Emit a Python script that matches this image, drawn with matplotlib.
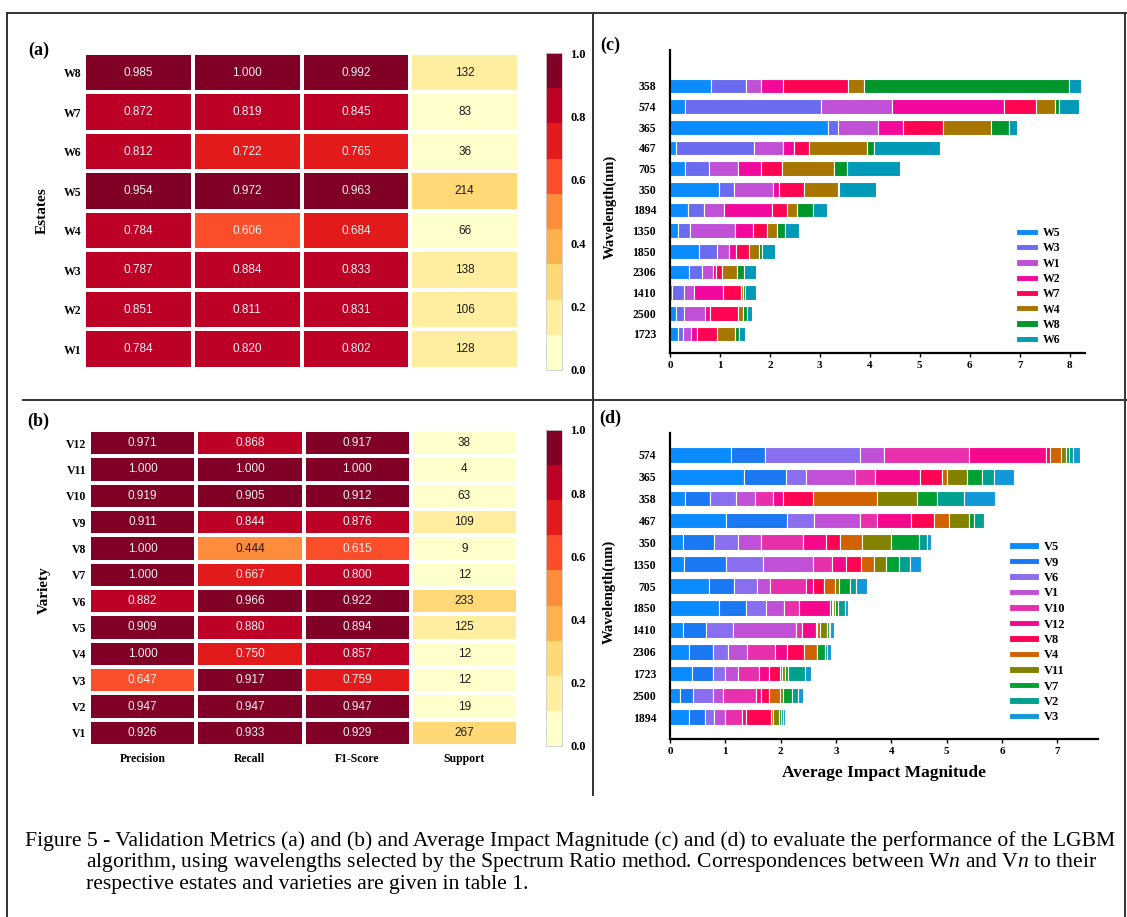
import numpy as np
import matplotlib.pyplot as plt
from matplotlib.colors import ListedColormap, Normalize
from matplotlib.cm import ScalarMappable
from matplotlib.lines import Line2D

plt.rcParams["mathtext.fontset"] = "custom"
plt.rcParams["mathtext.rm"] = "Liberation Serif"
plt.rcParams["mathtext.it"] = "Liberation Serif:italic"

SERIF = "Liberation Serif"
SANS = "Liberation Sans"
W, H = 1127, 917

# ── (a) / (b) validation metrics ────────────────────────────────────────────
metric_cols = ["Precision", "Recall", "F1-Score", "Support"]

estates = ["W8", "W7", "W6", "W5", "W4", "W3", "W2", "W1"]
est_precision = [0.985, 0.872, 0.812, 0.954, 0.784, 0.787, 0.851, 0.784]
est_recall = [1.000, 0.819, 0.722, 0.972, 0.606, 0.884, 0.811, 0.820]
est_f1 = [0.992, 0.845, 0.765, 0.963, 0.684, 0.833, 0.831, 0.802]
est_support = [132, 83, 36, 214, 66, 138, 106, 128]

varieties = ["V12", "V11", "V10", "V9", "V8", "V7", "V6", "V5", "V4", "V3", "V2", "V1"]
var_precision = [0.971, 1.000, 0.919, 0.911, 1.000, 1.000, 0.882, 0.909, 1.000, 0.647, 0.947, 0.926]
var_recall = [0.868, 1.000, 0.905, 0.844, 0.444, 0.667, 0.966, 0.880, 0.750, 0.917, 0.947, 0.933]
var_f1 = [0.917, 1.000, 0.912, 0.876, 0.615, 0.800, 0.922, 0.894, 0.857, 0.759, 0.947, 0.929]
var_support = [38, 4, 63, 109, 9, 12, 233, 125, 12, 12, 19, 267]

# ── (c) impact per estate ───────────────────────────────────────────────────
wl_c = ["358", "574", "365", "467", "705", "350", "1894", "1350", "1850", "2306", "1410", "2500", "1723"]
est_names = ["W5", "W3", "W1", "W2", "W7", "W4", "W8", "W6"]
w5 = [0.83, 0.31, 3.17, 0.13, 0.31, 0.99, 0.36, 0.17, 0.59, 0.39, 0.05, 0.12, 0.17]
w3 = [0.70, 2.72, 0.20, 1.56, 0.48, 0.30, 0.33, 0.24, 0.35, 0.26, 0.24, 0.16, 0.10]
w1 = [0.29, 1.41, 0.80, 0.58, 0.57, 0.78, 0.40, 0.90, 0.25, 0.22, 0.19, 0.42, 0.15]
w2 = [0.44, 2.25, 0.50, 0.22, 0.47, 0.11, 0.95, 0.36, 0.13, 0.06, 0.58, 0.10, 0.12]
w7 = [1.30, 0.64, 0.80, 0.29, 0.42, 0.50, 0.31, 0.28, 0.27, 0.12, 0.37, 0.56, 0.40]
w4 = [0.33, 0.38, 0.95, 1.17, 1.03, 0.68, 0.19, 0.19, 0.19, 0.30, 0.04, 0.11, 0.37]
w8 = [4.09, 0.08, 0.36, 0.14, 0.27, 0.02, 0.33, 0.17, 0.07, 0.13, 0.04, 0.07, 0.07]
w6 = [0.25, 0.39, 0.17, 1.31, 1.06, 0.74, 0.28, 0.28, 0.25, 0.25, 0.22, 0.10, 0.12]
est_colors = ["#0A8CFF", "#6B6BF0", "#C050D6", "#F2089C", "#FF0452", "#A87600", "#00962C", "#0099B8"]

# ── (d) impact per variety ──────────────────────────────────────────────────
wl_d = ["574", "365", "358", "467", "350", "1350", "705", "1850", "1410", "2306", "1723", "2500", "1894"]
var_names = ["V5", "V9", "V6", "V1", "V10", "V12", "V8", "V4", "V11", "V7", "V2", "V3"]
v5 = [1.10, 1.34, 0.27, 1.01, 0.24, 0.26, 0.71, 0.89, 0.24, 0.35, 0.40, 0.18, 0.35]
v9 = [0.61, 0.75, 0.45, 1.11, 0.55, 0.75, 0.45, 0.48, 0.41, 0.42, 0.38, 0.24, 0.28]
v6 = [1.72, 0.36, 0.48, 0.48, 0.44, 0.67, 0.42, 0.36, 0.48, 0.27, 0.21, 0.35, 0.16]
v1 = [0.43, 0.89, 0.34, 0.84, 0.42, 0.90, 0.22, 0.33, 1.14, 0.36, 0.24, 0.18, 0.21]
v10 = [1.54, 0.36, 0.32, 0.30, 0.75, 0.34, 0.66, 0.27, 0.12, 0.50, 0.37, 0.61, 0.31]
v12 = [1.39, 0.81, 0.19, 0.62, 0.42, 0.26, 0.13, 0.56, 0.25, 0.21, 0.19, 0.09, 0.06]
v8 = [0.07, 0.40, 0.54, 0.42, 0.25, 0.27, 0.19, 0.03, 0.02, 0.31, 0.20, 0.14, 0.46]
v4 = [0.21, 0.09, 1.16, 0.26, 0.40, 0.23, 0.20, 0.03, 0.06, 0.23, 0.04, 0.20, 0.03]
v11 = [0.08, 0.37, 0.72, 0.36, 0.52, 0.22, 0.07, 0.04, 0.12, 0.01, 0.04, 0.05, 0.11]
v7 = [0.06, 0.27, 0.35, 0.09, 0.51, 0.23, 0.20, 0.05, 0.03, 0.14, 0.06, 0.17, 0.04]
v2 = [0.07, 0.21, 0.49, 0.19, 0.15, 0.21, 0.12, 0.12, 0.03, 0.04, 0.31, 0.10, 0.04]
v3 = [0.13, 0.36, 0.57, 0.02, 0.06, 0.20, 0.19, 0.05, 0.06, 0.07, 0.11, 0.09, 0.03]
var_colors = ["#0A8CFF", "#1A78F2", "#8A6EF0", "#C050D6", "#E830AC", "#F5088C", "#FF0452",
              "#D06200", "#828200", "#00A032", "#00A090", "#1098D8"]

# 9-class YlOrRd, as in the reference colour bars
CMAP = ListedColormap(["#FFFFCC", "#FFEDA0", "#FED976", "#FEB24C", "#FD8D3C",
                       "#FC4E2A", "#E31A1C", "#BD0026", "#800026"])


def fx(x):
    return x / W


def fy(y):
    return 1 - y / H


def box(x0, y0, x1, y1):
    """pixel box (top-left / bottom-right) -> figure rect"""
    return [fx(x0), fy(y1), (x1 - x0) / W, (y1 - y0) / H]


def draw_heatmap(ax, cax, rows, cols, support, show_x):
    n = len(rows)
    data = np.column_stack(cols + [np.array(support) / np.sum(support)])
    cls = np.clip(np.floor(np.round(data * 9, 2)), 0, 8)
    ax.pcolormesh(cls + 0.5, cmap=CMAP, vmin=0, vmax=9,
                  edgecolors="white", linewidth=1.5)
    ax.set_xlim(0, 4)
    ax.set_ylim(n, 0)
    for i in range(n):
        for j in range(4):
            txt = f"{support[i]}" if j == 3 else f"{data[i, j]:.3f}"
            col = "#f2f2f2" if cls[i, j] >= 5 else "#1a1a1a"
            ax.text(j + 0.5, i + 0.5, txt, ha="center", va="center",
                    fontsize=8.5, family=SANS, color=col)
    ax.set_yticks(np.arange(n) + 0.5)
    ax.set_yticklabels(rows, family=SERIF, fontweight="bold", fontsize=8.5)
    ax.set_xticks(np.arange(4) + 0.5)
    if show_x:
        ax.set_xticklabels(metric_cols, family=SERIF, fontweight="bold", fontsize=8.5)
    else:
        ax.set_xticklabels([])
    ax.tick_params(axis="y", length=0, pad=2)
    ax.tick_params(axis="x", length=0, pad=5)
    for s in ax.spines.values():
        s.set_visible(False)

    cb = fig.colorbar(ScalarMappable(Normalize(0, 1), CMAP), cax=cax,
                      ticks=[0, 0.2, 0.4, 0.6, 0.8, 1.0], format="%.1f")
    cb.outline.set_edgecolor("#cccccc")
    cb.outline.set_linewidth(0.6)
    cax.tick_params(length=0, pad=6)
    for t in cax.get_yticklabels():
        t.set_family(SERIF)
        t.set_fontweight("bold")
        t.set_fontsize(9)


def draw_bars(ax, labels, series, names, colors, xmax, ylim, xticks, leg_fs, leg_xy, leg_hl):
    pos = np.arange(len(labels))
    left = np.zeros(len(labels))
    for vals, name, col in zip(series, names, colors):
        ax.barh(pos, vals, left=left, height=0.72, color=col,
                edgecolor="white", linewidth=0.8, label=name)
        left += np.array(vals)
    ax.set_xlim(0, xmax)
    ax.set_ylim(*ylim)
    ax.set_yticks(pos)
    ax.set_yticklabels(labels, family=SERIF, fontweight="bold", fontsize=8.5)
    ax.set_xticks(xticks)
    ax.set_xticklabels([str(t) for t in xticks], family=SERIF, fontweight="bold", fontsize=8)
    ax.tick_params(axis="y", length=0, pad=10)
    ax.tick_params(axis="x", length=3, width=1, pad=3)
    for s in ["top", "right"]:
        ax.spines[s].set_visible(False)
    for s in ["left", "bottom"]:
        ax.spines[s].set_linewidth(1.6)
    leg = ax.legend(loc="upper left", bbox_to_anchor=(fx(leg_xy[0]), fy(leg_xy[1])),
                    bbox_transform=fig.transFigure, frameon=False, borderpad=0,
                    borderaxespad=0, handlelength=leg_hl, handleheight=0.45,
                    handletextpad=0.35, labelspacing=0.28,
                    prop={"family": SERIF, "weight": "bold", "size": leg_fs})
    return leg


fig = plt.figure(figsize=(W / 100, H / 100), dpi=100, facecolor="white")

# page frame and panel dividers
frame = dict(color="#333333", linewidth=1.4)
for (x0, y0, x1, y1) in [(7, 13, 1127, 13), (7, 13, 7, 917), (1125, 13, 1125, 917),
                         (593, 13, 593, 795), (23, 400, 1127, 400)]:
    fig.add_artist(Line2D([fx(x0), fx(x1)], [fy(y0), fy(y1)],
                          transform=fig.transFigure, **frame))

# (a)
ax_a = fig.add_axes(box(84, 53, 519, 369))
cax_a = fig.add_axes(box(546, 53, 562, 370))
draw_heatmap(ax_a, cax_a, estates, [est_precision, est_recall, est_f1], est_support, False)

# (b)
ax_b = fig.add_axes(box(89, 430, 518, 746))
cax_b = fig.add_axes(box(546, 430, 562, 746))
draw_heatmap(ax_b, cax_b, varieties, [var_precision, var_recall, var_f1], var_support, True)

# (c)
ax_c = fig.add_axes(box(670, 50, 1085, 353))
draw_bars(ax_c, wl_c, [w5, w3, w1, w2, w7, w4, w8, w6], est_names, est_colors,
          415 / 49.95, (12.92, -1.74), list(range(9)), 8.5, (1016, 227), 1.9)

# (d)
ax_d = fig.add_axes(box(670, 433, 1098, 739))
draw_bars(ax_d, wl_d, [v5, v9, v6, v1, v10, v12, v8, v4, v11, v7, v2, v3], var_names,
          var_colors, 428 / 55.33, (12.99, -1.0), list(range(8)), 9, (1009, 541), 2.4)
ax_d.set_xlabel("Average Impact Magnitude", family=SERIF, fontweight="bold",
                fontsize=12.5, labelpad=6)

# panel letters and axis titles
lab = dict(family=SERIF, fontweight="bold")
fig.text(fx(39), fy(50), "(a)", ha="center", va="center", fontsize=13, **lab)
fig.text(fx(38), fy(421), "(b)", ha="center", va="center", fontsize=13, **lab)
fig.text(fx(610), fy(45), "(c)", ha="center", va="center", fontsize=13, **lab)
fig.text(fx(610), fy(418), "(d)", ha="center", va="center", fontsize=13, **lab)
fig.text(fx(42), fy(211), "Estates", rotation=90, ha="center", va="center", fontsize=11, **lab)
fig.text(fx(44), fy(590), "Variety", rotation=90, ha="center", va="center", fontsize=11, **lab)
fig.text(fx(610), fy(207), "Wavelength(nm)", rotation=90, ha="center", va="center", fontsize=10.5, **lab)
fig.text(fx(609), fy(592), "Wavelength(nm)", rotation=90, ha="center", va="center", fontsize=10.5, **lab)

# caption
cap = dict(family=SERIF, fontsize=15.6, ha="left", va="center")
fig.text(fx(25), fy(841), "Figure 5 - Validation Metrics (a) and (b) and Average Impact Magnitude "
         "(c) and (d) to evaluate the performance of the LGBM", **cap)
fig.text(fx(86), fy(863), r"algorithm, using wavelengths selected by the Spectrum Ratio method. "
         r"Correspondences between W$\mathit{n}$ and V$\mathit{n}$ to their", **cap)
fig.text(fx(86), fy(885), "respective estates and varieties are given in table 1.", **cap)

fig.savefig("out.png", dpi=100, facecolor="white")
